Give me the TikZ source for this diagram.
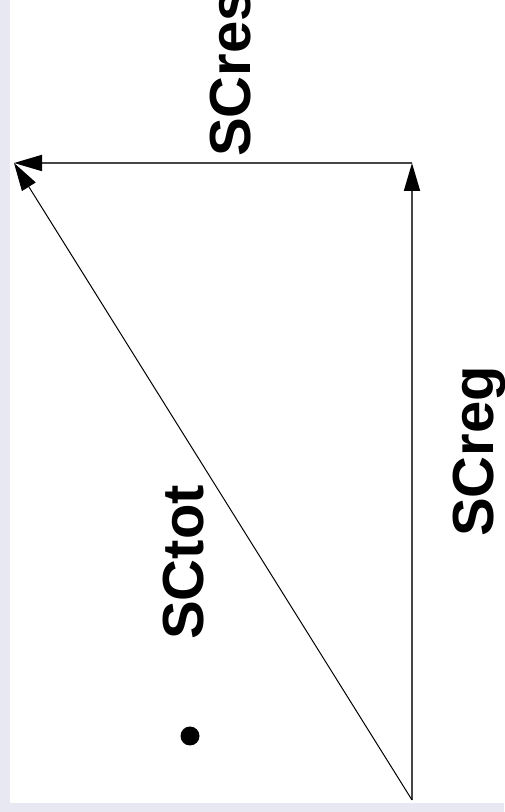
\documentclass[tikz,border=0pt]{standalone}
\usepackage{fontspec}
\setmainfont{Liberation Sans}
\usetikzlibrary{arrows.meta}
\definecolor{lav}{RGB}{232,232,242}
\definecolor{axisgray}{RGB}{70,70,70}
\tikzset{
  lbl/.style={rotate=90,anchor=base west,inner sep=0pt,font=\fontsize{58}{60}\selectfont\bfseries},
  tip/.style={-{Triangle[length=28pt,width=16pt,color=black]}},
}
\begin{document}
\begin{tikzpicture}[x=1pt,y=1pt]
\useasboundingbox (0,0) rectangle (504,812);
\fill[lav] (0,0) rectangle (504,812);
\fill[white] (10,9) rectangle (504,812);
\coordinate (O) at (412,12);
\coordinate (R) at (412,649);
\coordinate (L) at (14,649);
\draw[tip,axisgray,line width=1.8pt] (O) -- (R);
\draw[tip,axisgray,line width=1.8pt] (R) -- (L);
\draw[tip,black,line width=1pt] (O) -- (L);
\node[lbl] (res) at (250,655) {SCres};
\node[lbl] (tot) at (203,172) {SCtot};
\node[lbl] (reg) at (493,275) {SCreg};
\fill[black] (190,76) circle (9.5);
\end{tikzpicture}
\end{document}
